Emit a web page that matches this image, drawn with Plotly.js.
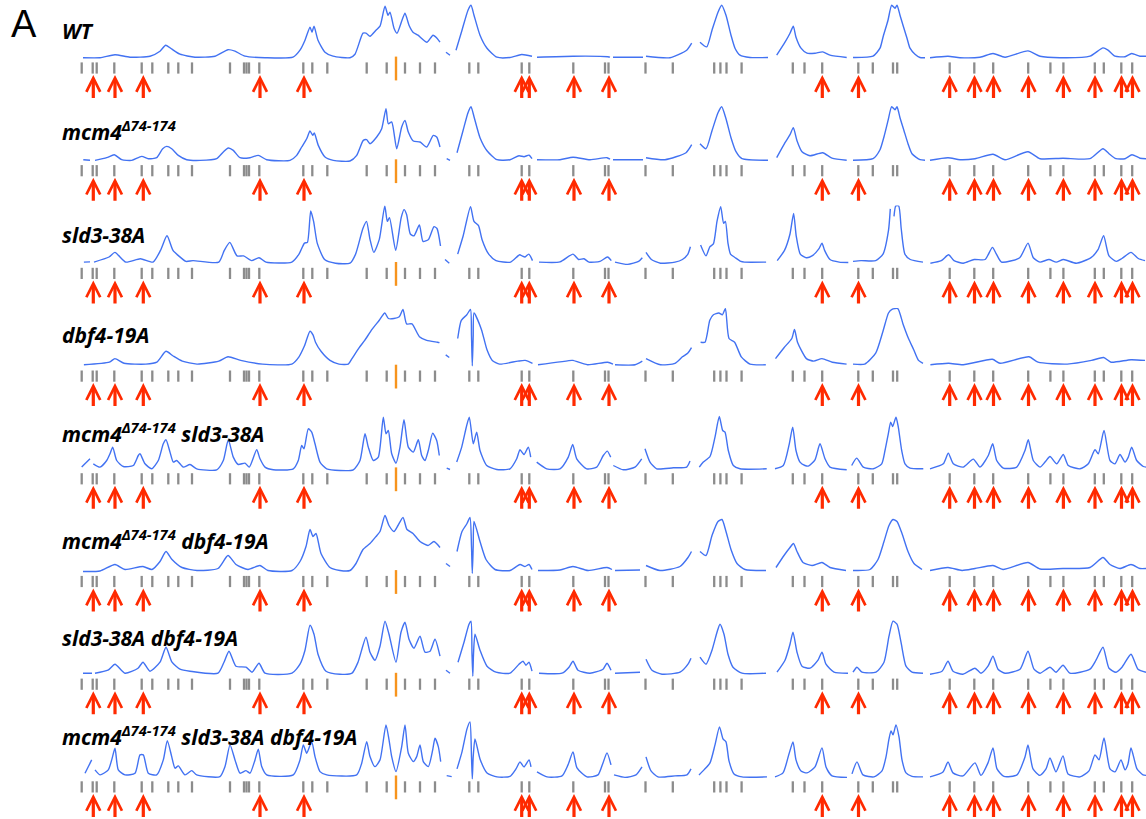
<!DOCTYPE html>
<html><head><meta charset="utf-8">
<script src="https://cdn.plot.ly/plotly-3.0.1.min.js"></script>
<style>html,body{margin:0;padding:0;background:#fff}#chart{width:1146px;height:819px}</style>
</head><body><div id="chart"></div>
<script>
// Strain labels (top to bottom)
const strainLabels = [
  "WT",
  "mcm4<sup>Δ74-174</sup>",
  "sld3-38A",
  "dbf4-19A",
  "mcm4<sup>Δ74-174</sup> sld3-38A",
  "mcm4<sup>Δ74-174</sup> dbf4-19A",
  "sld3-38A dbf4-19A",
  "mcm4<sup>Δ74-174</sup> sld3-38A dbf4-19A"
];

// Replication profiles: [genome position, signal]; null = gap between chromosomes/contigs
const profileWT = [[83,10.3],[100,10.3],[115,13.3],[130,10.8],[150,11.8],[160,16.8],[165.7,22.8],[172,18.8],[180,13.8],[195,10.8],[215,11.8],[228,18.3],[235,16.8],[245,11.8],[265,10.3],[293,10.8],[300,17.8],[305,27.8],[310,40.8],[312,35.8],[314,41.8],[318,27.8],[325,15.8],[333,11.8],[350,10.3],[355,13.8],[363,34.8],[366,34.8],[370,31.8],[376,37.8],[380,41.8],[385,61.8],[388,52.8],[390,55.8],[394,39.8],[397,34.8],[402,47.8],[405,54.8],[409,42.8],[413,35.8],[418,32.8],[427,25.8],[433,32.8],[437,29.8],[440,25.8],null,[446,15.8],[450,12.8],null,[456,17.8],[462,37.8],[468,57.8],[471,62.8],[474,52.8],[480,32.8],[487,19.8],[497,10.8],[510,10.5],[521.7,13.5],[532,11.8],null,[537,10.8],[573,11.8],[608,11.3],[610,10.8],null,[613,10.8],[643,10.8],null,[646,11.8],[670,10.3],[686.7,17.8],[691.7,24.8],null,[700,25.8],[706.7,21.1],[712,37.8],[718,55.8],[721.7,62.8],[726,52.8],[731,32.8],[735,19.8],[740,12.8],[750,10.5],[768,10.5],null,[776.7,12.8],[785,25.8],[790,34.8],[793.3,41.8],[796,30.8],[801,19.8],[807,14.8],[815,14.8],[822.7,16.1],[830,12.8],[846.7,10.5],null,[853,10.5],[873,11.8],[880,19.8],[883,30.8],[888,47.8],[891.7,62.8],[895,59.8],[897,62.8],[900,52.8],[903,42.8],[907,29.8],[910,19.8],[915,13.8],[920,10.5],[925,10.3],null,[930,10.3],[948,11.8],[960,10.3],[980,10.8],[993,14.5],[1005,10.8],[1028,17.1],[1040,11.8],[1060,10.3],[1090,11.8],[1103,20.1],[1108,17.8],[1115,11.8],[1125,11.3],[1131.7,14.5],[1140,11.8],[1146,11.8]];

const profileMcm4 = [[83.3,11],[90,10.5],null,[95,10.3],[106.7,13],[114.3,16],[121.7,11],[131.7,10.3],[141.7,14.3],[148.3,12],[156.7,13],[162.7,22],[166.7,24.3],[171.7,22],[178.3,15.3],[186.7,11],[200,10.3],[216.7,12],[223.3,18.7],[228.3,22.7],[233.3,20.3],[240,13],[250,13],[258.3,15.3],[266.7,11],[290,10.3],[296.7,15.3],[301.7,23.7],[306.7,32],[310,39.7],[312.7,35.3],[314.3,37.7],[318.3,25.3],[325,13.7],[333.3,10.3],[350,9.7],[356.7,15.3],[363.3,30.3],[366.7,31],[370,27],[376.7,33.7],[381.7,42],[386,62],[388.3,47],[391.7,48.7],[396.7,22],[401.7,43.7],[405,50.3],[408.3,38.7],[413.3,29.7],[420,28.7],[426.7,23.7],[433.3,35.3],[436.7,33.7],[440,23.7],null,[446.7,12],[450,10.3],null,[457,18],[463,40],[468,58],[471,64],[474,54],[480,33],[487,20],[497,11],[510,11],[519,15],[524,14],[529,15.5],[532,12],null,[537,11],[560,11],[573,13.5],[590,11],[607,13],[610,11.5],null,[613,11],[643,11],null,[646,13],[665,11],[686,18],[691.7,26],null,[700,27],[706,22],[712,40],[718,58],[721.7,64],[726,52],[731,33],[736,19],[742,12],[768,10.5],null,[776.7,13],[785,28],[790,36],[793.3,43],[797,30],[802,19],[810,15],[822.7,18],[832,12.5],[846.7,10.5],null,[853,10.5],[873,12],[880,21],[884,34],[888,50],[891.7,64],[895,61],[897,64],[900,53],[904,40],[908,27],[912,17],[920,11],[925,10.5],null,[930,10.5],[948,13],[960,11],[975,12],[993,16.5],[1005,11],[1028,19],[1040,12],[1063,12.5],[1090,12],[1103,22],[1109,17],[1116,12],[1125,12],[1132,16],[1140,12.5],[1146,12]];

const profileSld3 = [[83.9,11.3],[90,11.5],null,[94,11.3],[109,16.4],[114.9,21],[125.8,11.3],[140.4,14.6],[153,11.3],[160.5,23],[167,37.6],[173,23],[178.7,17.5],[186,12],[193,12.8],[218.8,11.3],[224.3,23],[229.8,31],[237,17.5],[243.6,17.5],[251.6,12.8],[259,15.7],[266,11.3],[291.8,11.3],[299,19.3],[304.5,30.3],[307.4,31],[310.7,62.4],[313.6,52],[317.3,30],[324.6,13.9],[335.5,10.2],[350,10.2],[355.6,19.3],[362.9,44.9],[366.5,52],[370,34],[373.8,21],[379.3,34],[384.8,67.5],[387.3,52],[389.5,55.8],[395.7,23],[401.2,55.8],[404,63.8],[406.6,59],[410.3,39.4],[414,37.6],[419.4,48.5],[423,32],[428.5,34],[434,46.7],[437,44.9],[440.5,27.4],null,[445,13.9],[449.3,10.2],null,[457.7,19.3],[463.2,37.6],[470.5,66.7],[474,52],[478.5,47.8],[482,34],[488.7,19.3],[496,12.8],[510.6,11.3],[519.7,18.6],[522,17.5],[525,16.4],[528.8,19.3],[532.5,12.8],null,[539,11.3],[560,11.5],[573,19.3],[578.5,13.9],[584,14.6],[589,11.3],[600,12],[607.6,16.4],[611.3,12.8],null,[615,11.3],[627.7,9],[638.6,12],[642.3,15.7],null,[646,21],[651.4,13.9],[660.5,10.2],[675,11.3],[682.4,13.9],[687.9,19.3],[690.4,26.6],null,[700.6,28.4],[706,17.5],[709.8,26.6],[713.4,29.5],[717,52],[720.7,66.7],[723.6,50],[725.4,52],[728,30],[730.5,19.3],[735.3,15.7],[740.8,12],[744.4,11.3],[766.1,11.3],null,[777.2,12.8],[784.5,23],[790,39.4],[793.6,60],[796.2,37.6],[800.3,19.3],[806.4,15.7],[812,17.5],[819,24.8],[822,30.3],[824.6,23],[830,13.9],[839.2,11.3],[848.3,10.9],null,[853,12],[861,12.8],[875.7,12.8],[883,19.3],[888.5,43],[890.3,64.5],null,[894,57],[895.8,67.5],[898.7,67.5],[901.2,44.9],[904.9,19.3],[910.3,13.9],[923,11.3],null,[930.4,10.2],[941.3,12.8],[948.6,18.6],[954,12.8],[963.2,10.2],[974.2,13.9],[985.1,13.9],[992.4,26],[996,20.1],[1001.5,11.3],[1019.7,15.7],[1028,30.3],[1033.3,15.7],[1040,11.3],[1049,13.9],[1056.2,11.3],[1063.5,13.9],[1076.3,10.2],[1091,15.7],[1098,23.7],[1103.6,37.6],[1109,17.5],[1116.4,12],[1121.9,14.9],[1131,21],[1138.3,14.9],[1145,12.8]];

const profileDbf4 = [[83.9,11.3],[109.4,13.9],[114.9,17.5],[124,12.8],[145.9,12],[156.8,13.9],[166,24.8],[173.2,20.1],[182.3,15],[197,12],[218.8,15],[228,19.3],[240.7,15.7],[262.6,12],[291.8,12],[299,19.3],[304.5,30.3],[310,44.9],[313,41.2],[315.5,33.9],[321,24.8],[330,15.7],[339,12],[348.3,12],[352,17.5],[359.2,28.4],[364.7,35.7],[372,46.7],[379.3,55.8],[384.8,63.1],[388.4,57.6],[393.9,57.6],[399.3,59.4],[403,66.7],[406.6,52.2],[412,52.2],[419.4,39.4],[426.7,35.7],[437.6,33.9],[439.5,33.5],null,[445.7,21.2],[449.3,18.6],null,[457.7,37.6],[461.3,55.8],[466.8,61.3],[470.5,66.7],[471.5,40],[472.3,10.2],[473.2,40],[474,63.1],[481.4,46.7],[486.9,26.6],[492.3,15.7],[499.6,12],[517.9,15],[525.2,15.7],[532.5,12.8],null,[538,11.3],[571.8,15.7],[573,15.7],[587.6,11.3],[607.6,13.9],[613,12],null,[615,11.3],[635,11.3],[642.3,15],null,[646,17.5],[660.5,11.3],[675,12.8],[682.4,19.3],[687.9,23],[691.5,28.4],null,[700.6,33.9],[705,33.9],[709.8,55.8],[713.4,61.3],[718.8,63.1],[722.4,61.3],[725.4,67.5],[729,37.6],[734.6,33.9],[741.3,19.3],[750,12],[765.8,11.3],null,[775.5,17.5],[784,28.4],[791.8,37.6],[794.5,46.7],[797.5,33.9],[806.4,17.5],[813.7,15],[822,17.5],[832.3,13.9],[846.6,12],null,[853,12],[864.7,12],[875.7,23],[883,44.9],[888.5,63.1],[892,66.7],[897.8,67.5],[903,52.2],[908.5,37.6],[913.6,26.6],[918.5,15.7],[923,12.8],null,[930.4,11.3],[948.6,12.8],[963.2,11.3],[992.4,16.8],[1000,12.8],[1029,19.3],[1038,13.9],[1067.3,12],[1091.5,15.7],[1103.6,18.6],[1111,13.9],[1131,16.4],[1145,15.7]];

const profileMcm4Sld3 = [[81.7,11.7],[90,20],null,[93.3,15],[100,11.7],[106.7,18.3],[110,25],[112.7,31.7],[116.7,18.3],[123.3,12.3],[133.3,13.3],[138.3,23.3],[140,25],[145,15],[151.7,10],[158.3,18.3],[163.3,35],[166,39],[170,26.7],[173.3,16.7],[176.7,18.3],[183.3,11.7],[190,14.3],[196.7,10],[216.7,9],[223.3,18.3],[228.3,39],[233.3,21.7],[238.3,14.3],[245,15.7],[249.3,11.7],[256.7,29],[260,20],[265,11.7],[273.3,9],[293.3,10],[298.3,18.3],[301.7,33.3],[304,30],[308.3,50],[311.7,46.7],[315,35],[320,16.7],[326.7,10],[353.3,9],[360,18.3],[365,45],[368.3,31.7],[373.3,18.3],[378.3,21.7],[383.3,61.7],[386,45],[388.3,48.3],[391.7,25],[396,15.7],[400,31.7],[404,59],[408.3,31.7],[413.3,26.7],[418.3,39],[421.7,23.3],[425,18.3],[428.3,28.3],[432.7,45.7],[436.7,38.3],[439.3,23.3],null,[446.7,10.7],[450,9.3],null,[456.7,16.7],[461.7,31.7],[466.7,53.3],[469.3,61.7],[473.3,35],[476.7,46.7],[480,28.3],[486.7,13.3],[496.7,9.3],[510,10],[516.7,20],[520,29],[524,24.3],[528.3,31.7],[530.7,21.7],null,[536.7,16.7],[546.7,10],[560,10],[568.3,21.7],[572.7,34.3],[576.7,20],[586.7,10],[596.7,11.7],[603.3,23.3],[607.3,27.7],[610.7,21.7],null,[613.3,13.3],[623.3,9],[635,11.7],[641.7,20],null,[645,30],[650,16.7],[656.7,10],[673.3,11],[686.7,11.7],[690,17.7],null,[699.3,11.7],[703.3,16.7],[710,22.3],[715,41.7],[719.3,62.3],[722.7,48.3],[725,46.7],[728.3,28.3],[733.3,13.3],[740,10],[766.7,10],null,[775,10],[783.3,13.3],[789.3,35],[792.7,51.7],[796,28.3],[800,16.7],[805,13.3],[808.3,12.7],[815,19],[820,35],[825,20],[830,11.7],[846.7,9],null,[851.7,13.3],[856.7,20.7],[863.3,11.7],[873.3,10],[881.7,15],[885,28.3],[888.3,45],[890.7,56.7],[892.7,52.3],[896,61.7],[898.3,51.7],[901.7,28.3],[905,15],[910,10.7],[923.3,10],null,[930,10],[943.3,15],[948.3,25.7],[953.3,15],[963.3,11.7],[973.3,19.7],[980,11.7],[988.3,23.3],[992.7,35],[996.7,18.3],[1003.3,10.7],[1016.7,11.7],[1025,28.3],[1028.3,39],[1033.3,18.3],[1040,11.7],[1045,16.7],[1050,22.3],[1056.7,15],[1063.3,24.3],[1068.3,13.3],[1080,10],[1088.3,15],[1095,29],[1098.3,25],[1104,48.3],[1110,18.3],[1115,15],[1120,24.3],[1125,16.7],[1128.3,21.7],[1131.7,31.7],[1136.7,18.3],[1143.3,12.3],[1146,11.7]];

const profileMcm4Dbf4 = [[83,10],[100,10.5],[115,17],[125,12],[143,15],[152,12],[160,20],[166,30],[172,22],[182,14],[197,11],[218,13],[228,26],[236,17],[248,12],[260,16],[268,11],[292,11],[300,20],[306,35],[310,52],[313,45],[316,48],[321,28],[330,14],[340,11],[350,11],[356,18],[363,32],[370,38],[376,45],[380,50],[385,66],[389,56],[394,50],[398,56],[403,64],[407,52],[413,48],[420,40],[428,36],[434,40],[440,34],null,[446,18],[450,15],null,[457,30],[462,50],[467,58],[470,64],[471.5,35],[472.3,8],[473.2,35],[474,60],[480,40],[486,22],[495,12],[510,11],[520,17],[525,15],[529,17],[532,12],null,[538,11],[560,11.5],[573,15],[588,11],[607,14],[612,12],null,[615,11],[640,11.5],null,[646,16],[660,11],[680,15],[688,24],[691.5,30],null,[700,30],[706,26],[712,46],[718,60],[722,62],[726,50],[731,32],[737,18],[745,12],[766,11],null,[776,14],[784,26],[790,34],[793.5,38],[797,30],[803,19],[812,16],[822,19],[830,14],[846,11],null,[853,11],[870,12],[878,22],[884,40],[889,56],[893,62],[897,60],[902,48],[908,30],[914,18],[922,12],null,[930,11],[948,14],[962,11],[975,13],[993,16],[1003,12],[1028,19],[1040,12.5],[1063,13],[1090,14],[1103,24],[1110,17],[1120,13],[1131,17],[1140,13],[1146,13]];

const profileSld3Dbf4 = [[83,11],[92,11],null,[95,11],[108,14],[115,20],[125,11],[138,16],[143,22],[150,13],[160,22],[166,37],[172,22],[180,15],[190,13],[218,11],[224,22],[229,33],[236,18],[246,17],[252,12],[259,21],[265,11],[292,11],[300,20],[305,34],[310,59],[314,50],[318,30],[326,13],[340,10],[352,11],[358,22],[366,47],[370,32],[375,24],[380,38],[385,63],[389,50],[396,22],[401,52],[405,62],[409,45],[414,36],[420,48],[425,32],[430,33],[435,45],[440,28],null,[446,14],[450,11],null,[458,22],[464,42],[469,60],[471,63],[472,30],[472.8,8],[473.5,30],[475,50],[480,34],[487,18],[496,12],[510,11],[519,20],[523,23],[526,19],[529,22],[532,13],null,[539,11],[562,11],[569,17],[573,23],[578,14],[590,11],[603,15],[607,21],[611,14],null,[615,11],[640,12],null,[646,25],[652,14],[662,10],[680,12],[688,20],[691,26],null,[700,27],[706,20],[712,34],[717,52],[720,60],[724,50],[728,30],[733,17],[742,11],[766,11],null,[777,12],[785,24],[790,40],[793,52],[797,32],[802,18],[810,16],[818,24],[822,32],[826,20],[834,12],[848,11],null,[853,12],[857,17],[862,12],[876,12],[884,22],[889,48],[893,63],[897,60],[901,42],[906,18],[912,12],[923,11],null,[930,10],[942,13],[948,23],[953,13],[963,10],[975,16],[981,11],[988,18],[993,28],[998,15],[1005,11],[1020,15],[1028,33],[1034,15],[1040,11],[1050,17],[1056,12],[1063,19],[1070,11],[1090,15],[1096,24],[1103,37],[1109,16],[1116,12],[1122,17],[1131,30],[1138,15],[1146,12]];

const profileTriple = [[85,13.7],[91.7,27],null,[95,17],[100,12],[108.3,17],[111.7,27],[115,38.7],[118.3,17],[125,12],[135,13.7],[140,32],[143.3,32],[148.3,13.7],[156.7,12],[163.3,27],[167.3,46.3],[171.7,30.3],[175,18.7],[178.3,21],[185,12],[191.7,16.3],[196.7,12],[220,10.3],[225,20.3],[230,42],[235,27],[240,13.7],[246,16.3],[250,13.7],[255,27],[258.3,37.7],[261.7,20.3],[266.7,12],[293.3,12],[300,27],[303.3,42],[306.7,33.7],[311.7,45.3],[315,30.3],[320,15.3],[326.7,12],[356.7,12],[361.7,23.7],[366.7,45.3],[370,30.3],[375,20.3],[380,27],[386,62],[389.3,45.3],[391.7,30.3],[396,15.3],[401.7,40.3],[405,62],[408.3,33.7],[413.3,25.3],[416.7,30.3],[420,42],[423.3,25.3],[428.3,20.3],[432.7,37],[435,48.7],[438.3,40.3],[440.7,25.3],null,[446.7,11.3],[451.7,10.3],null,[457,18],[462,35],[467,58],[470,65],[471.5,30],[472.3,8],[473.2,30],[475,48],[480,28],[487,14],[497,10],[510,10.5],[516,18],[520,25],[524,20],[529,27],[531,20],null,[537,15],[547,10],[562,11],[568,22],[573,35],[577,19],[587,10],[598,12],[603,24],[607,34],[611,22],null,[614,12],[625,9.5],[636,12],[642,20],null,[646,30],[651,16],[658,10],[675,11],[687,12],[691,18],null,[699,12],[704,17],[710,24],[715,42],[719.5,60],[723,48],[726,45],[729,26],[734,13],[742,10],[767,10],null,[775,10],[783,14],[789,33],[793,45],[796,27],[801,16],[807,14],[815,20],[822,39],[826,20],[832,11],[847,9.5],null,[852,13],[857,25],[863,12],[874,10],[882,16],[886,30],[889,48],[891,56],[893,52],[896,62],[899,50],[902,27],[906,14],[912,10.5],[923,10],null,[930,10],[943,15],[948,25],[953,14],[963,11],[975,24],[981,11.5],[988,24],[993,39],[997,18],[1004,10.5],[1017,12],[1025,30],[1028,42],[1033,18],[1040,11.5],[1046,18],[1050,29],[1056,15],[1063,31],[1068,13],[1080,10],[1089,16],[1095,32],[1099,27],[1104,49],[1110,18],[1115,15],[1121,27],[1125,17],[1128,23],[1131,39],[1137,18],[1143,12],[1146,11.5]];

// Annotated replication origins (gray ticks), centromere (orange) and highlighted origins (red arrows)
const originPositions = [81.7,92.7,96.7,114.3,141.7,152.3,168.3,178.3,192,230,244,246.5,249,259.3,303.3,312.3,327.3,366.7,386.7,405,420,435,469.3,478.3,521.7,529.3,573.3,605,608.5,645.5,672.8,714.2,720.4,726.5,741.6,792.8,804.5,822.2,858.3,872.8,893,897.2,949.7,974.3,993.2,1028.2,1050.4,1063.4,1094.8,1103.8,1121.3,1132.2];
const centromerePositions = [396];
const arrowPositions = [93.3,115,143.3,260,304,521.7,529.3,574,609,822.3,858.5,949.7,974.5,993.5,1028.5,1063.4,1095,1121.5,1132.5];

const profiles = [profileWT, profileMcm4, profileSld3, profileDbf4, profileMcm4Sld3, profileMcm4Dbf4, profileSld3Dbf4, profileTriple];

// ---- layout geometry (styles) ----
const W = 1146, H = 819;
const firstTick = 68, pitch = 102.7, above = 68, below = 34.7;
const labelLift = [37, 40, 38, 41, 46, 42, 46, 51];
const traces = [], annotations = [];
const layout = {
  width: W, height: H, autosize: false,
  margin: {l: 0, r: 0, t: 0, b: 0, pad: 0},
  paper_bgcolor: '#ffffff', plot_bgcolor: 'rgba(0,0,0,0)',
  showlegend: false,
  xaxis: {range: [0, W], visible: false, fixedrange: true}
};

profiles.forEach((p, k) => {
  const ya = k === 0 ? 'y' : 'y' + (k + 1);
  const key = k === 0 ? 'yaxis' : 'yaxis' + (k + 1);
  const tick = firstTick + pitch * k;
  const top = tick - above;
  const bot = Math.min(tick + below, H);
  layout[key] = {domain: [1 - bot / H, 1 - top / H], range: [-(bot - tick), tick - top], visible: false, fixedrange: true};
  traces.push({
    x: p.map(d => d ? d[0] : null), y: p.map(d => d ? d[1] : null), yaxis: ya,
    type: 'scatter', mode: 'lines', connectgaps: false, cliponaxis: false, hoverinfo: 'skip',
    line: {color: '#4272f2', width: 1.4, shape: 'spline', smoothing: 0.6}
  });
  traces.push({
    x: originPositions, y: originPositions.map(() => 0), yaxis: ya,
    type: 'scatter', mode: 'markers', cliponaxis: false, hoverinfo: 'skip',
    marker: {symbol: 'line-ns', size: 8, line: {width: 2.3, color: '#8c8c8c'}}
  });
  traces.push({
    x: centromerePositions, y: centromerePositions.map(() => -0.5), yaxis: ya,
    type: 'scatter', mode: 'markers', cliponaxis: false, hoverinfo: 'skip',
    marker: {symbol: 'line-ns', size: 17, line: {width: 2.4, color: '#f7941d'}}
  });
  arrowPositions.forEach(x => annotations.push({
    x: x, y: -7, xref: 'x', yref: ya, ax: 0, ay: 25, text: ' ', showarrow: true,
    arrowhead: 5, arrowsize: 0.85, arrowwidth: 3.2, arrowcolor: '#ff2a00', standoff: 0,
    font: {size: 1}
  }));
  annotations.push({
    x: 60, y: labelLift[k], xref: 'x', yref: ya, xanchor: 'left', yanchor: 'middle', showarrow: false,
    text: '<b><i>' + strainLabels[k] + '</i></b>',
    font: {family: 'Open Sans', size: 21, color: '#000000'}
  });
});

annotations.push({
  x: 9, y: 44, xref: 'x', yref: 'y', xanchor: 'left', yanchor: 'middle', showarrow: false,
  text: 'A', font: {family: 'Liberation Sans, Arial, sans-serif', size: 38, color: '#000000'}
});
layout.annotations = annotations;

Plotly.newPlot('chart', traces, layout, {staticPlot: true, displayModeBar: false});
</script>
</body></html>
